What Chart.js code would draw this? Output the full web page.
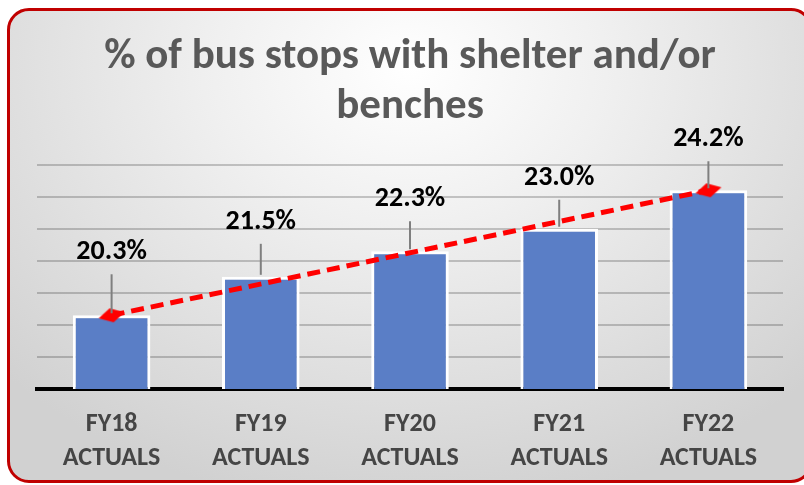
<!DOCTYPE html>
<html>
<head>
<meta charset="utf-8">
<script src="https://cdn.jsdelivr.net/npm/chart.js@4.4.1/dist/chart.umd.min.js"></script>
<style>
  body { margin: 0; background: #ffffff; width: 804px; height: 485px; overflow: hidden; position: relative; }
  #card {
    position: absolute; left: 7px; top: 8px; width: 806px; height: 475px;
    box-sizing: border-box; border: 3px solid #c00000; border-radius: 22px;
    background: radial-gradient(ellipse 70% 95% at 50% 12%, #ffffff 0%, #f0f0f0 35%, #d1d1d1 100%);
  }
  #wrap { position: absolute; left: 0; top: 0; width: 804px; height: 485px; }
</style>
</head>
<body>
<div id="card"></div>
<div id="wrap"><canvas id="placeholder1" width="804" height="485"></canvas></div>
<script>
const fiscalYears = [['FY18', 'ACTUALS'], ['FY19', 'ACTUALS'], ['FY20', 'ACTUALS'], ['FY21', 'ACTUALS'], ['FY22', 'ACTUALS']];
const shelterShare = [20.3, 21.5, 22.3, 23.0, 24.2];
// dashed trend only has markers at the first and last year
const trendEnds = [20.3, null, null, null, 24.2];

const FONT = "Carlito, Lato, 'Noto Sans', sans-serif";

// squashed diamond marker for the trend line ends
const diamond = document.createElement('canvas');
diamond.width = 30;
diamond.height = 20;
{
    const d = diamond.getContext('2d');
    d.fillStyle = '#ff0000';
    d.beginPath();
    d.moveTo(2, 13);
    d.lineTo(13, 3);
    d.lineTo(28, 7);
    d.lineTo(17, 17);
    d.closePath();
    d.fill();
}

// value labels above each bar with a short leader line
const valueLabels = {
    id: 'valueLabels',
    afterDatasetsDraw(chart, args, opts) {
        const ctx = chart.ctx;
        const meta = chart.getDatasetMeta(1);
        ctx.save();
        meta.data.forEach((bar, i) => {
            const ly = bar.y - opts.lift[i];
            ctx.strokeStyle = '#7f7f7f';
            ctx.lineWidth = 2;
            ctx.beginPath();
            ctx.moveTo(bar.x, ly + 22);
            ctx.lineTo(bar.x, bar.y - 2);
            ctx.stroke();
            ctx.fillStyle = '#000000';
            ctx.font = 'bold 28px ' + FONT;
            ctx.textAlign = 'center';
            ctx.textBaseline = 'middle';
            ctx.fillText(shelterShare[i].toFixed(1) + '%', bar.x, ly);
        });
        ctx.restore();
    }
};

const ctx = document.getElementById('placeholder1');

const data = {
    labels: fiscalYears,
    datasets: [
        {
            type: 'line',
            data: trendEnds,
            spanGaps: true,
            borderColor: '#ff0000',
            borderWidth: 5,
            borderDash: [13, 7],
            tension: 0,
            pointStyle: diamond,
            pointRadius: 10,
            order: 0
        },
        {
            type: 'bar',
            data: shelterShare,
            backgroundColor: '#5a7ec6',
            borderColor: '#ffffff',
            borderWidth: 3,
            borderSkipped: false,
            barPercentage: 0.52,
            categoryPercentage: 1,
            order: 1
        }
    ]
};

const config = {
    type: 'bar',
    data: data,
    options: {
        responsive: false,
        animation: false,
        layout: {
            padding: { left: 37, right: 21, top: 0, bottom: 0 }
        },
        plugins: {
            legend: { display: false },
            tooltip: { enabled: false },
            title: {
                display: true,
                text: ['% of bus stops with shelter and/or', 'benches'],
                color: '#595959',
                font: { family: FONT, size: 43, weight: 'bold', lineHeight: 1.17 },
                padding: { top: 32, bottom: 32 }
            },
            valueLabels: {
                lift: [63, 55, 52, 51, 51]
            }
        },
        scales: {
            x: {
                z: 1,
                afterFit(scale) { scale.height = 96; },
                grid: { display: false, drawTicks: false },
                border: { display: true, color: '#000000', width: 4 },
                ticks: {
                    color: '#454545',
                    padding: 18,
                    font: { family: FONT, size: 26, weight: 'bold', lineHeight: 1.31 }
                }
            },
            y: {
                min: 18,
                max: 25,
                ticks: { display: false, stepSize: 1 },
                grid: { color: 'rgba(0,0,0,0.2)', lineWidth: 2, drawTicks: false },
                border: { display: false }
            }
        }
    },
    plugins: [valueLabels]
};

const shelterChart = new Chart(ctx, config);
</script>
</body>
</html>
